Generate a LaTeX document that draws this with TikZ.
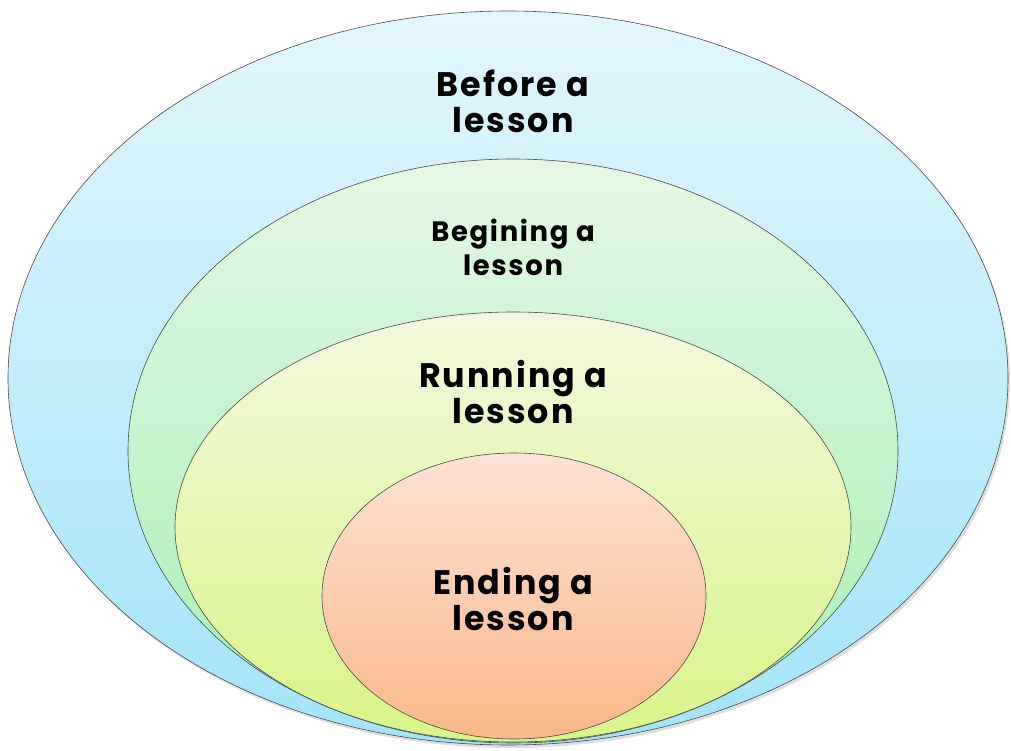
\documentclass[tikz,border=0pt]{standalone}
\usepackage{fontspec}
\setmainfont{Poppins}[UprightFont=* Bold, FakeStretch=0.98, LetterSpace=6]
\usetikzlibrary{shadows}
\definecolor{bluetop}{HTML}{E2F6FD}
\definecolor{bluebot}{HTML}{A2E4F7}
\definecolor{greentop}{HTML}{E4F8E4}
\definecolor{greenbot}{HTML}{A6EFB4}
\definecolor{yeltop}{HTML}{F2F8DE}
\definecolor{yelbot}{HTML}{D9F588}
\definecolor{orgtop}{HTML}{FDE2D6}
\definecolor{orgbot}{HTML}{F9B888}
\definecolor{edge}{HTML}{4A4A4A}
\tikzset{
  ring/.style={draw=edge, line width=0.6pt},
  lbl/.style={align=center, font=\fontsize{34}{36}\selectfont, text=black},
  lblsmall/.style={align=center, font=\fontsize{28}{34}\selectfont, text=black}
}
\begin{document}
\begin{tikzpicture}[x=1pt,y=-1pt]
\useasboundingbox (0,0) rectangle (1011,751);
% shadow
\fill[black!25, opacity=0.5] (510,381) ellipse [x radius=500, y radius=367];
\shade[ring, top color=bluetop, bottom color=bluebot] (508,378) ellipse [x radius=500, y radius=367];
\shade[ring, top color=greentop, bottom color=greenbot] (513,451) ellipse [x radius=385, y radius=292];
\shade[ring, top color=yeltop, bottom color=yelbot] (513,527) ellipse [x radius=338, y radius=215];
\shade[ring, top color=orgtop, bottom color=orgbot] (514,596) ellipse [x radius=192, y radius=143];
\node[lbl] (t1) at (513,101) {Before a\\lesson};
\node[lblsmall] (t2) at (513,247) {Begining a\\lesson};
\node[lbl] (t3) at (513,392) {Running a\\lesson};
\node[lbl] (t4) at (513,599) {Ending a\\lesson};
\end{tikzpicture}
\end{document}
